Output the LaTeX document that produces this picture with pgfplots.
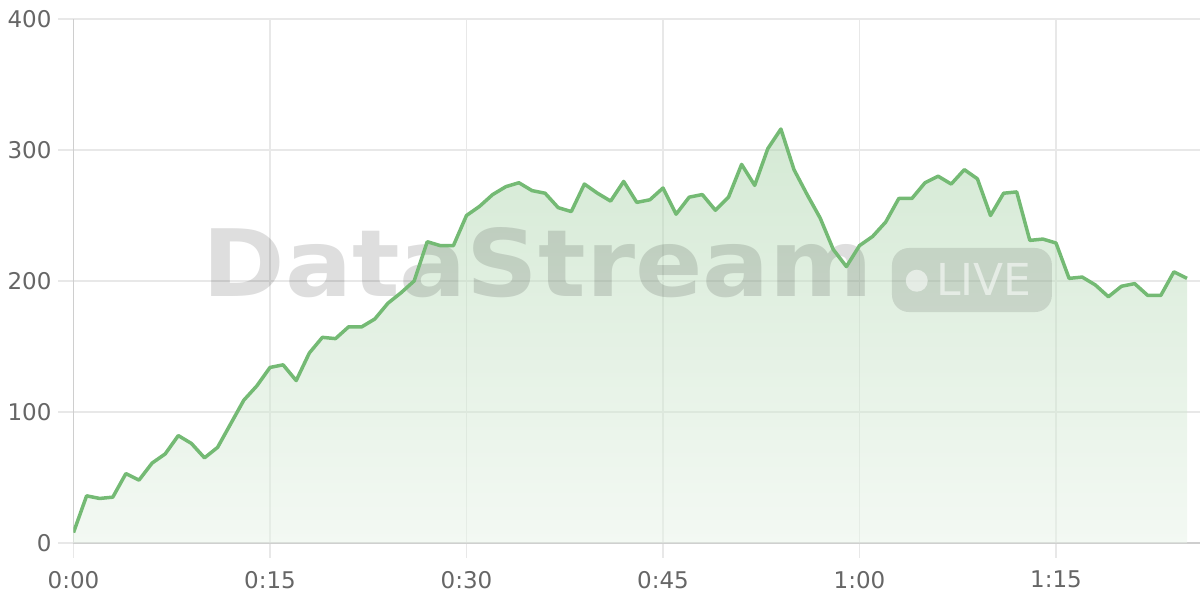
\documentclass[border=0pt]{standalone}
\usepackage{fontspec}
\setmainfont{DejaVu Sans}
\usepackage{graphicx}
\usepackage{pgfplots}
\pgfplotsset{compat=1.18}
\usepackage{pgfplotstable}
\definecolor{lineg}{RGB}{116,186,116}
\definecolor{fillA}{RGB}{170,212,170}
\definecolor{fillB}{RGB}{232,243,232}
\definecolor{gridc}{RGB}{232,232,232}
\definecolor{axisc}{RGB}{206,206,206}
\definecolor{labc}{RGB}{102,102,102}

\pgfplotstableread{
t v
0 8
1 36
2 34
3 35
4 53
5 48
6 61
7 68
8 82
9 76
10 65
11 73
12 91
13 109
14 120
15 134
16 136
17 124
18 145
19 157
20 156
21 165
22 165
23 171
24 183
25 191
26 200
27 230
28 227
29 227
30 250
31 257
32 266
33 272
34 275
35 269
36 267
37 256
38 253
39 274
40 267
41 261
42 276
43 260
44 262
45 271
46 251
47 264
48 266
49 254
50 264
51 289
52 273
53 301
54 316
55 285
56 266
57 248
58 224
59 211
60 227
61 234
62 245
63 263
64 263
65 275
66 280
67 274
68 285
69 278
70 250
71 267
72 268
73 231
74 232
75 229
76 202
77 203
78 197
79 188
80 196
81 198
82 189
83 189
84 207
85 202
}\data

\begin{document}
\begin{tikzpicture}
\begin{axis}[
  scale only axis,
  width=563.3pt, height=262pt,
  xmin=0, xmax=86, ymin=0, ymax=400,
  axis x line*=bottom, axis y line*=left,
  axis line style={-, draw=axisc, line width=0.8pt},
  every outer x axis line/.append style={-},
  every outer y axis line/.append style={-},
  xtick={0,15,30,45,60,75},
  xticklabels={0:00,0:15,0:30,0:45,1:00,1:15},
  ytick={0,100,200,300,400},
  grid=major,
  major grid style={draw=gridc, line width=0.75pt},
  tick align=outside,
  major tick length=7.5pt,
  tick style={draw=gridc, line width=0.75pt},
  tick label style={font=\fontsize{11.5}{13}\selectfont, text=labc},
  x tick label style={yshift=-3pt},
  /pgf/number format/assume math mode=true,
]
\coordinate (O) at (rel axis cs:0,0);
\addplot[draw=none, top color=fillA, bottom color=fillB, fill opacity=0.5] table[x=t,y=v] {\data} \closedcycle;
\node[anchor=base west, inner sep=0pt, text=black, text opacity=0.13, font=\bfseries\fontsize{46.5}{50}\selectfont] at (axis cs:9.81,187.8) {\scalebox{1.07}[1]{DataStream}};
\fill[black, fill opacity=0.11, rounded corners=8.5pt] (axis cs:62.48,176.3) rectangle (axis cs:74.69,225.2);
\fill[white, fill opacity=0.55] (axis cs:64.37,200.2) circle[radius=5.5pt];
\node[anchor=base west, inner sep=0pt, text=white, text opacity=0.55, font=\fontsize{22}{24}\selectfont] at (axis cs:65.82,189.3) {LIVE};
\addplot[lineg, line width=1.75pt, line join=round, mark=none] table[x=t,y=v] {\data};
\end{axis}
\pgfresetboundingbox
\path[use as bounding box] (O) ++(-36.75pt,-28.5pt) rectangle ++(600pt,300pt);
\end{tikzpicture}
\end{document}
